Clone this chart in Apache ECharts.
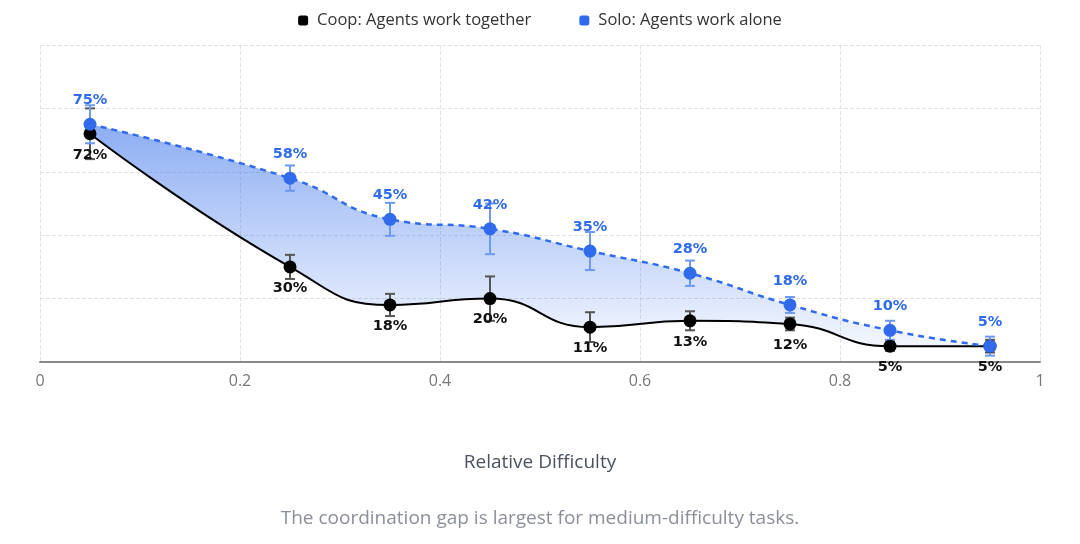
<!DOCTYPE html>
<html>
<head>
<meta charset="utf-8">
<script src="https://cdn.jsdelivr.net/npm/echarts@6/dist/echarts.min.js"></script>
<style>
html,body{margin:0;padding:0;background:#fff;}
#chart{width:1080px;height:544px;}
</style>
</head>
<body>
<div id="chart"></div>
<script>
const difficulty = [0.05, 0.25, 0.35, 0.45, 0.55, 0.65, 0.75, 0.85, 0.95];
const coopValues = [72, 30, 18, 20, 11, 13, 12, 5, 5];
const soloValues = [75, 58, 45, 42, 35, 28, 18, 10, 5];
const coopErr = [8, 3.8, 3.5, 7, 4.7, 3, 2, 1.5, 2];
const soloErr = [6, 4, 5.2, 8, 6, 4, 2.5, 3, 3];
const xTicks = [0, 0.2, 0.4, 0.6, 0.8, 1];
const coopName = 'Coop: Agents work together';
const soloName = 'Solo: Agents work alone';
const xAxisTitle = 'Relative Difficulty';
const caption = 'The coordination gap is largest for medium-difficulty tasks.';

const BLUE = '#2f6bea';
const FONT = 'Open Sans';
const LABEL_FONT = 'DejaVu Sans';
const SMOOTH = 0.5;

const coopData = difficulty.map((x, i) => [x, coopValues[i]]);
const soloData = difficulty.map((x, i) => [x, soloValues[i]]);
const bandData = difficulty.map((x, i) => [x, coopValues[i], soloValues[i]]);
const coopErrData = difficulty.map((x, i) => [x, coopValues[i] - coopErr[i], coopValues[i] + coopErr[i]]);
const soloErrData = difficulty.map((x, i) => [x, soloValues[i] - soloErr[i], soloValues[i] + soloErr[i]]);

// Same bezier smoothing ECharts uses for smooth lines; returns cubic segments
function smoothSegments(pts, smooth) {
  const segs = [];
  let cpx0 = pts[0][0], cpy0 = pts[0][1];
  const clamp = (v, a, b) => Math.max(Math.min(v, Math.max(a, b)), Math.min(a, b));
  for (let i = 1; i < pts.length; i++) {
    const [prevX, prevY] = pts[i - 1];
    const [x, y] = pts[i];
    let cpx1, cpy1, nextCpx0, nextCpy0;
    if (i === pts.length - 1) {
      cpx1 = x; cpy1 = y;
    } else {
      const [nextX, nextY] = pts[i + 1];
      let vx = nextX - prevX, vy = nextY - prevY;
      const dx0 = x - prevX, dy0 = y - prevY, dx1 = nextX - x, dy1 = nextY - y;
      const lenPrev = Math.sqrt(dx0 * dx0 + dy0 * dy0);
      const lenNext = Math.sqrt(dx1 * dx1 + dy1 * dy1);
      const ratio = lenNext / (lenNext + lenPrev);
      nextCpx0 = clamp(x + vx * smooth * ratio, nextX, x);
      nextCpy0 = clamp(y + vy * smooth * ratio, nextY, y);
      vx = nextCpx0 - x; vy = nextCpy0 - y;
      cpx1 = clamp(x - vx * lenPrev / lenNext, prevX, x);
      cpy1 = clamp(y - vy * lenPrev / lenNext, prevY, y);
      vx = x - cpx1; vy = y - cpy1;
      nextCpx0 = x + vx * lenNext / lenPrev;
      nextCpy0 = y + vy * lenNext / lenPrev;
    }
    segs.push({from: [prevX, prevY], c1: [cpx0, cpy0], c2: [cpx1, cpy1], to: [x, y]});
    cpx0 = nextCpx0; cpy0 = nextCpy0;
  }
  return segs;
}

function bandRender(params, api) {
  if (params.dataIndex !== 0) return null;
  const top = soloData.map(d => api.coord(d));
  const bot = coopData.map(d => api.coord(d));
  const topSegs = smoothSegments(top, SMOOTH);
  const botSegs = smoothSegments(bot, SMOOTH);
  let p = 'M' + top[0][0] + ' ' + top[0][1];
  topSegs.forEach(s => { p += ' C' + s.c1.join(' ') + ' ' + s.c2.join(' ') + ' ' + s.to.join(' '); });
  p += ' L' + bot[bot.length - 1][0] + ' ' + bot[bot.length - 1][1];
  for (let i = botSegs.length - 1; i >= 0; i--) {
    const s = botSegs[i];
    p += ' C' + s.c2.join(' ') + ' ' + s.c1.join(' ') + ' ' + s.from.join(' ');
  }
  p += ' Z';
  const yTop = Math.min(...top.map(q => q[1]));
  const yBot = Math.max(...bot.map(q => q[1]));
  return {
    type: 'path',
    shape: {pathData: p},
    style: {
      fill: new echarts.graphic.LinearGradient(0, yTop, 0, yBot, [
        {offset: 0, color: 'rgba(47,107,234,0.55)'},
        {offset: 1, color: 'rgba(47,107,234,0.06)'}
      ], true)
    }
  };
}

function errRender(color) {
  return function (params, api) {
    const x = api.value(0);
    const lo = api.coord([x, api.value(1)]);
    const hi = api.coord([x, api.value(2)]);
    const w = 5;
    const st = {stroke: color, lineWidth: 2};
    return {
      type: 'group',
      children: [
        {type: 'line', shape: {x1: lo[0], y1: lo[1], x2: hi[0], y2: hi[1]}, style: st},
        {type: 'line', shape: {x1: lo[0] - w, y1: lo[1], x2: lo[0] + w, y2: lo[1]}, style: st},
        {type: 'line', shape: {x1: hi[0] - w, y1: hi[1], x2: hi[0] + w, y2: hi[1]}, style: st}
      ]
    };
  };
}

const chart = echarts.init(document.getElementById('chart'));
chart.setOption({
  animation: false,
  textStyle: {fontFamily: FONT},
  legend: {
    top: 7,
    left: 'center',
    itemGap: 48,
    itemWidth: 10,
    itemHeight: 10,
    textStyle: {fontSize: 16.5, color: '#333', fontFamily: FONT, padding: [0, 0, 0, 4]},
    data: [
      {name: coopName, icon: 'roundRect', itemStyle: {color: '#000'}},
      {name: soloName, icon: 'roundRect', itemStyle: {color: BLUE}}
    ]
  },
  grid: {left: 40, right: 40, top: 45, bottom: 182},
  graphic: [{
    type: 'text',
    left: 'center',
    top: 509,
    style: {text: caption, fontSize: 19, fill: '#8a8f98', fontFamily: FONT}
  }],
  xAxis: {
    type: 'value',
    min: 0, max: 1, interval: 0.2,
    name: xAxisTitle,
    nameLocation: 'middle',
    nameGap: 91,
    nameTextStyle: {fontSize: 19, color: '#4a5260', fontFamily: FONT},
    axisLine: {show: true, lineStyle: {color: '#888', width: 2}},
    axisTick: {show: false},
    axisLabel: {
      fontSize: 16, color: '#777', margin: 11,
      formatter: v => (xTicks.includes(+v.toFixed(1)) ? String(+v.toFixed(1)) : '')
    },
    splitLine: {show: true, lineStyle: {type: 'dashed', color: '#e2e2e2'}}
  },
  yAxis: {
    type: 'value',
    min: 0, max: 100, interval: 20,
    axisLine: {show: false},
    axisTick: {show: false},
    axisLabel: {show: false},
    splitLine: {show: true, lineStyle: {type: 'dashed', color: '#e2e2e2'}}
  },
  series: [
    {
      name: 'gapFill',
      type: 'custom',
      data: bandData,
      renderItem: bandRender,
      silent: true,
      z: 0
    },
    {
      name: 'coopErr',
      type: 'custom',
      data: coopErrData,
      renderItem: errRender('#555'),
      silent: true,
      z: 1
    },
    {
      name: 'soloErr',
      type: 'custom',
      data: soloErrData,
      renderItem: errRender('#6d9af0'),
      silent: true,
      z: 1
    },
    {
      name: coopName,
      type: 'line',
      data: coopData,
      smooth: SMOOTH,
      symbol: 'circle',
      symbolSize: 13,
      itemStyle: {color: '#000'},
      lineStyle: {color: '#000', width: 2},
      z: 3,
      label: {
        show: true,
        position: 'bottom',
        distance: 7,
        formatter: p => p.value[1] + '%',
        color: '#111',
        fontSize: 14.5,
        fontWeight: 'bold',
        fontFamily: LABEL_FONT
      }
    },
    {
      name: soloName,
      type: 'line',
      data: soloData,
      smooth: SMOOTH,
      symbol: 'circle',
      symbolSize: 13,
      itemStyle: {color: BLUE},
      lineStyle: {color: BLUE, width: 2.5, type: [6, 5]},
      z: 4,
      label: {
        show: true,
        position: 'top',
        distance: 10,
        formatter: p => p.value[1] + '%',
        color: BLUE,
        fontSize: 14.5,
        fontWeight: 'bold',
        fontFamily: LABEL_FONT
      }
    }
  ]
});
</script>
</body>
</html>
